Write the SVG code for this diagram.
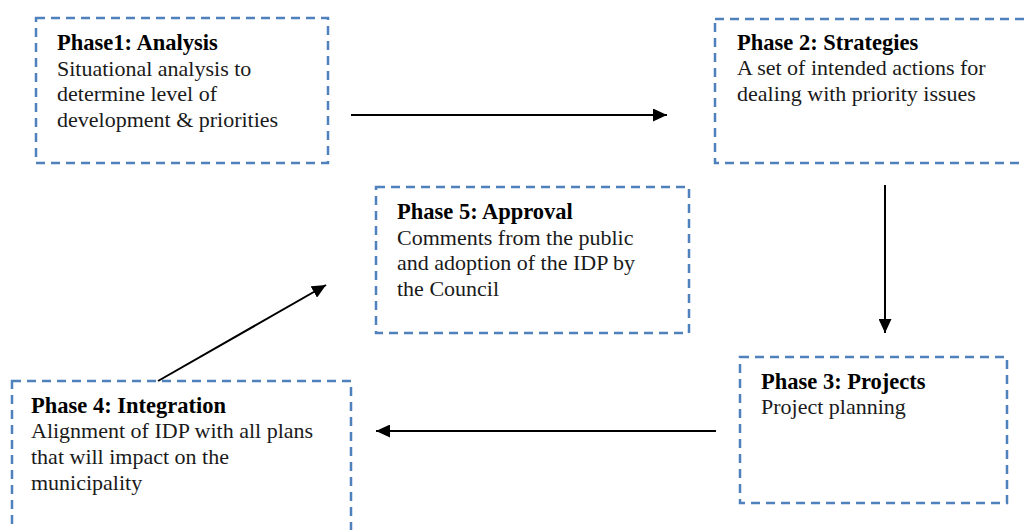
<svg xmlns="http://www.w3.org/2000/svg" width="1024" height="530" viewBox="0 0 1024 530">
<defs>
<marker id="ah" markerWidth="14" markerHeight="13" refX="14" refY="6.5" orient="auto" markerUnits="userSpaceOnUse" viewBox="0 0 14 13">
<path d="M0,0 L14,6.5 L0,13 Z" fill="#000"/>
</marker>
<style>
.box{fill:#fff;stroke:#4f81bd;stroke-width:2.5;stroke-dasharray:9,6}
.t{font-family:"Liberation Serif",serif;font-size:22px;fill:#1a1a1a}
.b{font-weight:bold;fill:#000;font-size:22.5px}
.c{stroke:#000;stroke-width:2;fill:none}
</style>
</defs>
<rect width="1024" height="530" fill="#fff"/>
<g id="phase1">
<rect class="box" x="36" y="18" width="292" height="145"/>
<text class="t b" x="57" y="50">Phase1: Analysis</text>
<text class="t" x="57" y="76">Situational analysis to</text>
<text class="t" x="57" y="101">determine level of</text>
<text class="t" x="57" y="127">development &amp; priorities</text>
</g>
<g id="phase2">
<rect class="box" x="715" y="19" width="320" height="144"/>
<text class="t b" x="737" y="50">Phase 2: Strategies</text>
<text class="t" x="737" y="75">A set of intended actions for</text>
<text class="t" x="737" y="101">dealing with priority issues</text>
</g>
<g id="phase5">
<rect class="box" x="376" y="187" width="313" height="146"/>
<text class="t b" x="397" y="219">Phase 5: Approval</text>
<text class="t" x="397" y="245">Comments from the public</text>
<text class="t" x="397" y="270">and adoption of the IDP by</text>
<text class="t" x="397" y="296">the Council</text>
</g>
<g id="phase4">
<rect class="box" x="12" y="381" width="339" height="160"/>
<text class="t b" x="31" y="413">Phase 4: Integration</text>
<text class="t" x="31" y="438">Alignment of IDP with all plans</text>
<text class="t" x="31" y="464">that will impact on the</text>
<text class="t" x="31" y="490">municipality</text>
</g>
<g id="phase3">
<rect class="box" x="740" y="357" width="267" height="146"/>
<text class="t b" x="761" y="389">Phase 3: Projects</text>
<text class="t" x="761" y="414">Project planning</text>
</g>
<g id="connectors">
<line class="c" x1="351" y1="115" x2="667" y2="115" marker-end="url(#ah)"/>
<line class="c" x1="885" y1="185" x2="885" y2="333" marker-end="url(#ah)"/>
<line class="c" x1="716" y1="431" x2="376" y2="431" marker-end="url(#ah)"/>
<line class="c" x1="158" y1="381" x2="326" y2="285" marker-end="url(#ah)"/>
</g>
</svg>
